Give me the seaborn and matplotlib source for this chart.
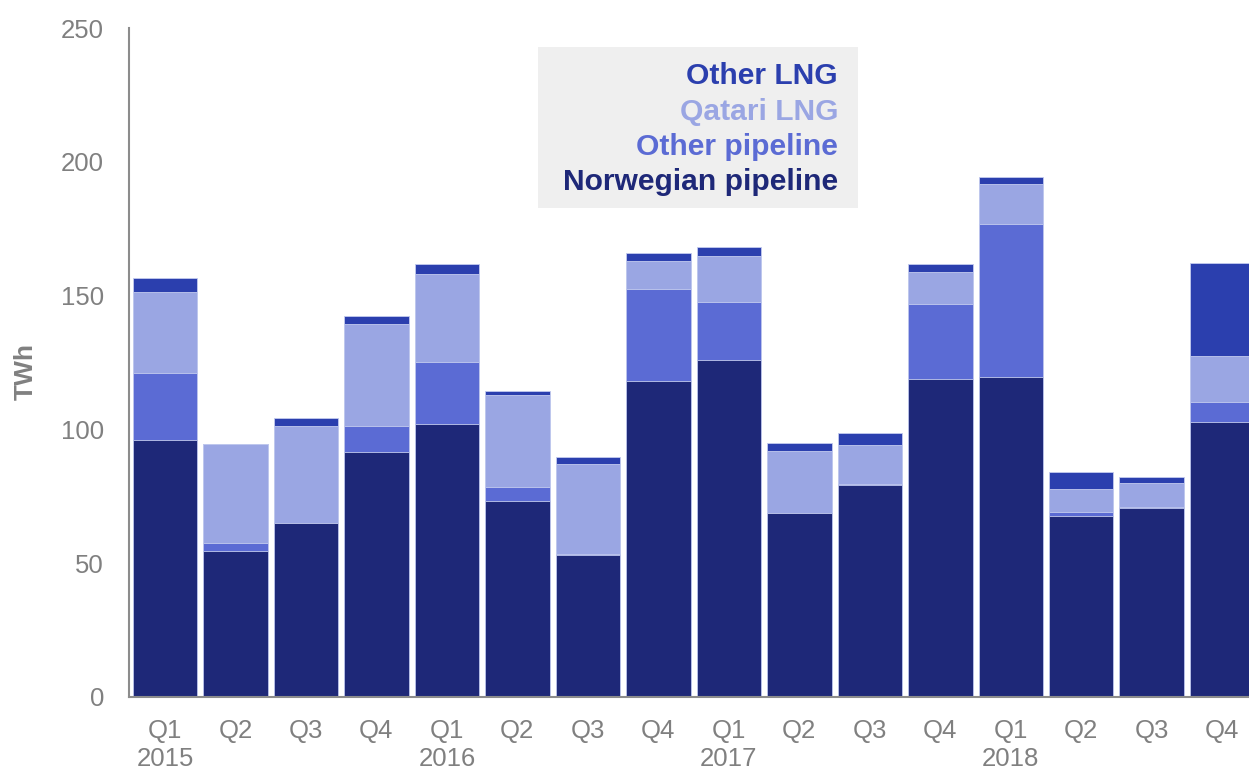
import numpy as np
import pandas as pd
import matplotlib
matplotlib.use("Agg")
import matplotlib.pyplot as plt
from matplotlib.patches import Rectangle
import seaborn as sns

# Quarterly UK gas imports by source, TWh
quarters = ["Q1\n2015", "Q2", "Q3", "Q4",
            "Q1\n2016", "Q2", "Q3", "Q4",
            "Q1\n2017", "Q2", "Q3", "Q4",
            "Q1\n2018", "Q2", "Q3", "Q4"]
norwegian_pipeline = [96.0, 54.6, 65.0, 91.7, 102.0, 73.1, 53.1, 118.2,
                      125.9, 68.6, 79.3, 118.8, 119.6, 67.6, 70.7, 102.9]
other_pipeline = [25.1, 3.1, 0.0, 9.5, 23.1, 5.4, 0.5, 34.1,
                  21.7, 0.0, 0.4, 27.9, 57.0, 1.4, 0.4, 7.2]
qatari_lng = [30.1, 36.7, 36.2, 38.3, 33.0, 34.2, 33.5, 10.7,
              17.3, 23.3, 14.6, 12.3, 15.0, 8.6, 8.8, 17.2]
other_lng = [5.5, 0.0, 3.1, 2.8, 3.6, 1.5, 2.7, 2.8,
             3.1, 2.9, 4.2, 2.7, 2.7, 6.4, 2.2, 34.7]

series_names = ["Norwegian pipeline", "Other pipeline", "Qatari LNG", "Other LNG"]
series_values = [norwegian_pipeline, other_pipeline, qatari_lng, other_lng]
colors = {
    "Norwegian pipeline": "#1e2878",
    "Other pipeline": "#5b6bd4",
    "Qatari LNG": "#9aa6e3",
    "Other LNG": "#2b3fae",
}

sns.set_style("white")
plt.rcParams["font.family"] = ["Liberation Sans", "DejaVu Sans"]

W, H = 1249, 771
fig = plt.figure(figsize=(W / 100, H / 100), dpi=100)
ax = fig.add_axes([129 / W, 74 / H, 1 - 129 / W, (697 - 28) / H])

# Cumulative stacks: draw the tallest layer first, then cover it with lower ones
pos = np.arange(len(quarters))
cum = np.cumsum(np.array(series_values), axis=0)
for i in range(len(series_names) - 1, -1, -1):
    name = series_names[i]
    df = pd.DataFrame({"pos": pos, "value": cum[i]})
    sns.barplot(data=df, x="pos", y="value", color=colors[name],
                saturation=1, width=0.915, edgecolor="#c3cbef",
                linewidth=0.6, ax=ax)

ax.set_xlim(-0.51, 15.38)
ax.set_ylim(0, 250)
ax.set_yticks([0, 50, 100, 150, 200, 250])
ax.set_xticks(pos)
ax.set_xticklabels(quarters)
ax.tick_params(axis="both", length=0, labelsize=18.5, labelcolor="#808080")
ax.tick_params(axis="x", pad=16)
ax.tick_params(axis="y", pad=18)
for lbl in ax.get_xticklabels():
    lbl.set_linespacing(1.18)

ax.set_xlabel("")
ax.set_ylabel("TWh", fontsize=19, fontweight="bold", color="#808080")
ax.yaxis.set_label_coords((38 - 129) / (W - 129), (697 - 371) / (697 - 28))

for side in ["top", "right"]:
    ax.spines[side].set_visible(False)
for side in ["left", "bottom"]:
    ax.spines[side].set_color("#8c8c8c")
    ax.spines[side].set_linewidth(1.5)

# Text legend on a grey panel
fig.patches.append(Rectangle((538 / W, 1 - 208 / H), 320 / W, 161 / H,
                             transform=fig.transFigure, facecolor="#efefef",
                             edgecolor="none", zorder=0))
legend_order = ["Other LNG", "Qatari LNG", "Other pipeline", "Norwegian pipeline"]
for k, name in enumerate(legend_order):
    fig.text(838 / W, 1 - (84 + 35.5 * k) / H, name, ha="right", va="baseline",
             fontsize=21.6, fontweight="bold", color=colors[name])

fig.savefig("out.png", dpi=100)
